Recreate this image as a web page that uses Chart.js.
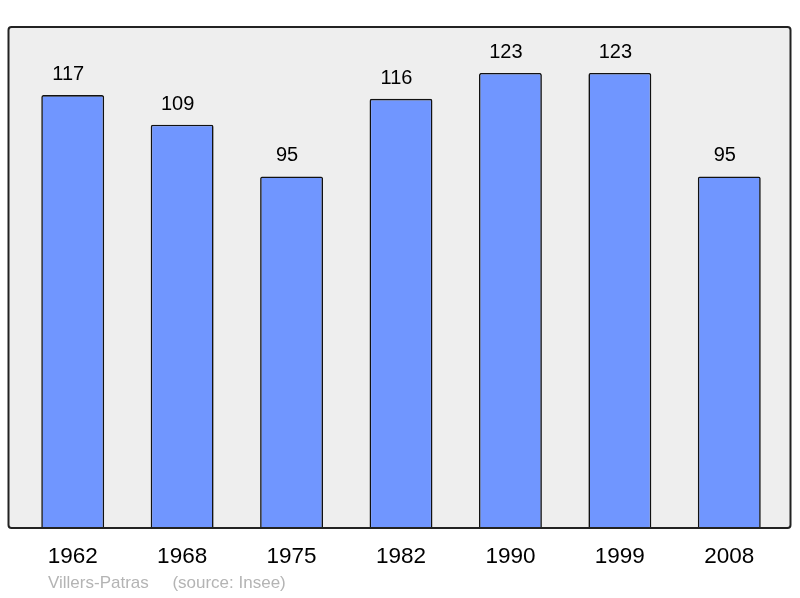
<!DOCTYPE html>
<html>
<head>
<meta charset="utf-8">
<script src="https://cdn.jsdelivr.net/npm/chart.js@4"></script>
<style>
  html, body { margin: 0; padding: 0; background: #ffffff; }
  #wrap { position: relative; width: 800px; height: 598px; }
  #footer { position: absolute; left: 48px; top: 573px; font: 17px "Liberation Sans", Arial, sans-serif; color: #b4b4b4; white-space: pre; }
</style>
</head>
<body>
<div id="wrap">
  <canvas id="c" width="800" height="598"></canvas>
  <div id="footer">Villers-Patras     (source: Insee)</div>
</div>
<script>
const years = ["1962", "1968", "1975", "1982", "1990", "1999", "2008"];
const population = [117, 109, 95, 116, 123, 123, 95];
const yMax = 135.4;

const framePlugin = {
  id: 'frame',
  beforeDraw(chart) {
    const { ctx, chartArea: a } = chart;
    const x0 = a.left - 9.5, x1 = a.right + 6.5, y0 = a.top, y1 = a.bottom;
    ctx.save();
    ctx.beginPath();
    ctx.roundRect(x0, y0, x1 - x0, y1 - y0, 3);
    ctx.fillStyle = '#eeeeee';
    ctx.fill();
    ctx.restore();
  },
  afterDatasetsDraw(chart) {
    const { ctx, chartArea: a } = chart;
    const x0 = a.left - 9.5, x1 = a.right + 6.5, y0 = a.top, y1 = a.bottom;
    ctx.save();
    ctx.beginPath();
    ctx.roundRect(x0, y0, x1 - x0, y1 - y0, 3);
    ctx.lineWidth = 2;
    ctx.strokeStyle = '#222222';
    ctx.stroke();
    const meta = chart.getDatasetMeta(0);
    ctx.fillStyle = '#000000';
    ctx.font = '20px "Liberation Sans", Arial, sans-serif';
    ctx.textAlign = 'center';
    ctx.textBaseline = 'alphabetic';
    meta.data.forEach((bar, i) => {
      ctx.fillText(String(population[i]), bar.x - 4.5, bar.y - 15);
    });
    ctx.restore();
  }
};

new Chart(document.getElementById('c'), {
  type: 'bar',
  data: {
    labels: years,
    datasets: [{
      data: population,
      backgroundColor: '#7096ff',
      borderColor: '#111111',
      borderWidth: 1.6,
      borderRadius: { topLeft: 2, topRight: 2, bottomLeft: 0, bottomRight: 0 },
      borderSkipped: 'bottom',
      categoryPercentage: 1,
      barPercentage: 0.575
    }]
  },
  options: {
    responsive: false,
    animation: false,
    layout: { padding: { left: 18, right: 16, top: 27, bottom: 13 } },
    plugins: { legend: { display: false }, tooltip: { enabled: false }, title: { display: false } },
    scales: {
      x: {
        grid: { display: false, drawTicks: false },
        border: { display: false },
        ticks: { color: '#000000', font: { family: '"Liberation Sans", Arial, sans-serif', size: 22.5 }, padding: 15 }
      },
      y: {
        display: false,
        min: 0,
        max: yMax
      }
    }
  },
  plugins: [framePlugin]
});
</script>
</body>
</html>
